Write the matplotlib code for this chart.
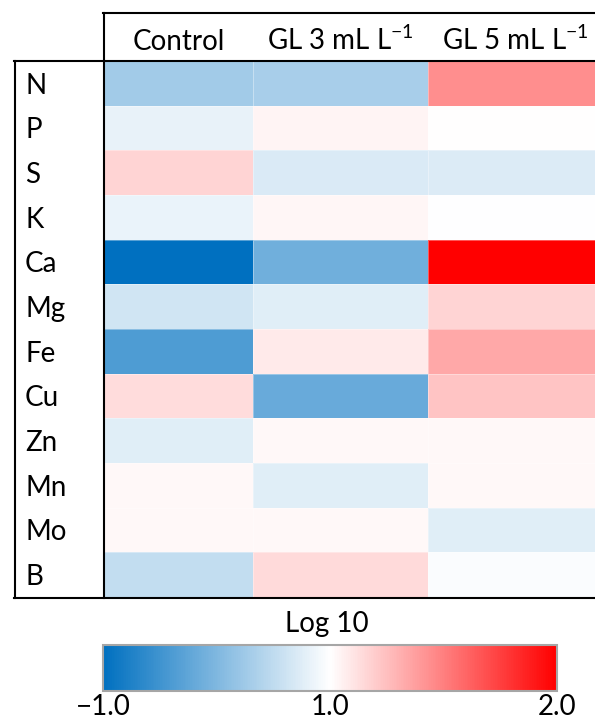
import matplotlib
matplotlib.use("Agg")
import matplotlib.pyplot as plt
import numpy as np
from matplotlib.colors import LinearSegmentedColormap, TwoSlopeNorm
from matplotlib.lines import Line2D
from matplotlib import transforms

plt.rcParams['font.family'] = ['Lato', 'DejaVu Sans']
plt.rcParams['mathtext.fontset'] = 'custom'
plt.rcParams['mathtext.rm'] = 'Lato'
plt.rcParams['mathtext.it'] = 'Lato:italic'
plt.rcParams['mathtext.bf'] = 'Lato:bold'

# ---------------- data ----------------
elements = ["N", "P", "S", "K", "Ca", "Mg", "Fe", "Cu", "Zn", "Mn", "Mo", "B"]
treatments = ["Control", "GL 3 mL L$^{-1}$", "GL 5 mL L$^{-1}$"]
control = [0.28, 0.82, 1.17, 0.84, -1.00, 0.64, -0.38, 1.14, 0.76, 1.03, 1.03, 0.52]
gl3 = [0.32, 1.04, 0.71, 1.035, -0.12, 0.76, 1.08, -0.18, 1.03, 0.76, 1.03, 1.145]
gl5 = [1.44, 1.00, 0.72, 0.99, 2.00, 1.17, 1.34, 1.23, 1.03, 1.03, 0.76, 0.96]
cbar_ticks = [-1.0, 1.0, 2.0]
cbar_ticklabels = ["\u22121.0", "1.0", "2.0"]
cbar_label = "Log 10"

data = np.array([control, gl3, gl5]).T

# ---------------- layout ----------------
W, H = 595, 722
def fx(px):
    return px / W
def fy(py):
    return 1 - py / H

fig = plt.figure(figsize=(W / 100, H / 100), dpi=100)
fig.patch.set_facecolor("white")

ax = fig.add_axes([fx(104), fy(597), (595 - 104) / W, (597 - 61) / H])
col_edges = [0, 149, 324, 499]
row_edges = np.arange(len(elements) + 1)

cmap = LinearSegmentedColormap.from_list("bwr_excel", ["#0070C0", "#FFFFFF", "#FF0000"])
norm = TwoSlopeNorm(vmin=-1.0, vcenter=1.0, vmax=2.0)
mesh = ax.pcolormesh(col_edges, row_edges, data, cmap=cmap, norm=norm,
                     edgecolors=(1, 1, 1, 0.35), linewidth=0.6)
ax.set_xlim(0, 491)
ax.set_ylim(len(elements), 0)
ax.axis("off")

# row labels
tr_rows = transforms.blended_transform_factory(fig.transFigure, ax.transData)
for i, el in enumerate(elements):
    ax.text(fx(25), i + 0.5 + 0.235, el, transform=tr_rows, ha="left",
            va="baseline", fontsize=20, color="black")

# column headers
tr_cols = transforms.blended_transform_factory(ax.transData, fig.transFigure)
for j, t in enumerate(treatments):
    cx = (col_edges[j] + col_edges[j + 1]) / 2
    ax.text(cx, fy(50), t, transform=tr_cols, ha="center", va="baseline",
            fontsize=20, color="black", clip_on=False)

# frame lines
lw = 1.5
def fline(x0, y0, x1, y1):
    fig.add_artist(Line2D([fx(x0), fx(x1)], [fy(y0), fy(y1)], color="black",
                          lw=lw, transform=fig.transFigure, solid_capstyle="projecting"))

fline(103, 12.5, 595, 12.5)
fline(14, 60.5, 595, 60.5)
fline(103.5, 12.5, 103.5, 598)
fline(14.5, 60.5, 14.5, 598)
fline(14, 598, 595, 598)

# colorbar
cax = fig.add_axes([fx(103), fy(691), (557 - 103) / W, (691 - 645) / H])
cb = fig.colorbar(mesh, cax=cax, orientation="horizontal")
cb.set_ticks(cbar_ticks)
cb.set_ticklabels(cbar_ticklabels)
cb.ax.tick_params(length=0, pad=2, labelsize=20)
cb.outline.set_edgecolor("#a6a6a6")
cb.outline.set_linewidth(1.5)

fig.text(fx(326.5), fy(632), cbar_label, ha="center", va="baseline", fontsize=20)

fig.savefig("out.png", dpi=100, facecolor="white")
